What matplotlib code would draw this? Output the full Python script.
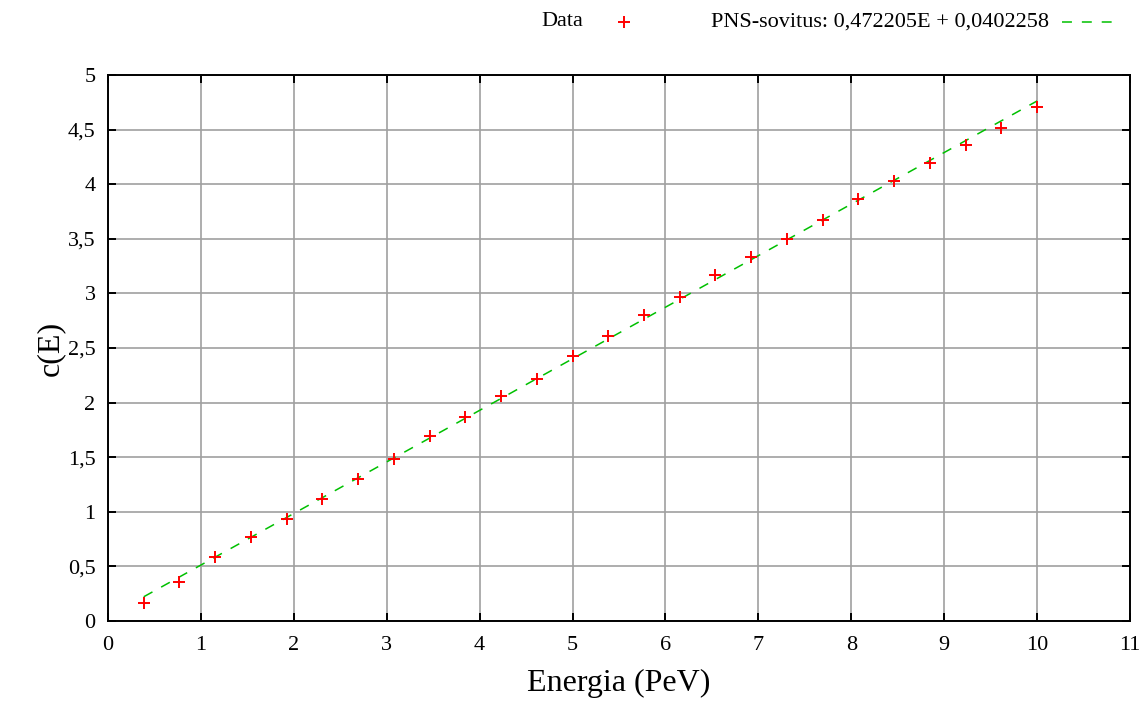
import matplotlib
matplotlib.use("Agg")
import matplotlib.pyplot as plt
from matplotlib.lines import Line2D
from matplotlib.ticker import FuncFormatter, MultipleLocator
import numpy as np

plt.rcParams['font.family'] = ['Liberation Serif', 'DejaVu Serif']

# mitatut pisteet
energia = [0.385, 0.769, 1.154, 1.538, 1.923, 2.308, 2.692, 3.077, 3.462,
           3.846, 4.231, 4.615, 5.0, 5.385, 5.769, 6.154, 6.538, 6.923,
           7.308, 7.692, 8.077, 8.462, 8.846, 9.231, 9.615, 10.0]
c_e = [0.162, 0.357, 0.589, 0.772, 0.937, 1.117, 1.30, 1.481, 1.691,
       1.865, 2.063, 2.213, 2.43, 2.61, 2.80, 2.97, 3.166, 3.33,
       3.50, 3.675, 3.867, 4.032, 4.197, 4.362, 4.515, 4.707]

# PNS-sovituksen kertoimet
k = 0.472205
b = 0.0402258

fig = plt.figure(figsize=(11.43, 7.02), dpi=100)
ax = fig.add_axes([108 / 1143, 1 - 621 / 702, (1130 - 108) / 1143, (621 - 75) / 702])

e_fit = np.array([min(energia), max(energia)])
ax.plot(e_fit, k * e_fit + b, color='#00c000', lw=1.1,
        linestyle=(0, (6.5, 6.5)), zorder=3)
ax.plot(energia, c_e, linestyle='none', marker='+', color='red',
        markersize=9, markeredgewidth=1.4, zorder=4)

ax.set_xlim(0, 11)
ax.set_ylim(0, 5)
ax.xaxis.set_major_locator(MultipleLocator(1))
ax.yaxis.set_major_locator(MultipleLocator(0.5))
pilkku = FuncFormatter(lambda v, p: ('%g' % v).replace('.', ','))
ax.xaxis.set_major_formatter(pilkku)
ax.yaxis.set_major_formatter(pilkku)

ax.grid(True, color='#a0a0a0', lw=1.2)
ax.set_axisbelow(True)
for s in ax.spines.values():
    s.set_linewidth(1.4)
ax.tick_params(direction='in', top=True, right=True, length=6, width=1.4,
               labelsize=16)
ax.tick_params(axis='x', pad=11)
ax.tick_params(axis='y', pad=9)

ax.set_xlabel('Energia (PeV)', fontsize=23, labelpad=10)
ax.set_ylabel('c(E)', fontsize=23, labelpad=2)

# selite ylhäällä
ly = 1 - 22 / 702
fig.text(583 / 1143, ly, 'Data', ha='right', va='center', fontsize=16)
fig.add_artist(Line2D([624 / 1143], [ly], marker='+', color='red',
                      markersize=9, markeredgewidth=1.4,
                      transform=fig.transFigure))
fig.text(1049 / 1143, ly, 'PNS-sovitus: 0,472205E + 0,0402258', ha='right',
         va='center', fontsize=16)
fig.add_artist(Line2D([1062 / 1143, 1113 / 1143], [ly, ly], color='#00c000',
                      lw=1.1, linestyle=(0, (6.5, 6.5)),
                      transform=fig.transFigure))

plt.savefig('out.png')
